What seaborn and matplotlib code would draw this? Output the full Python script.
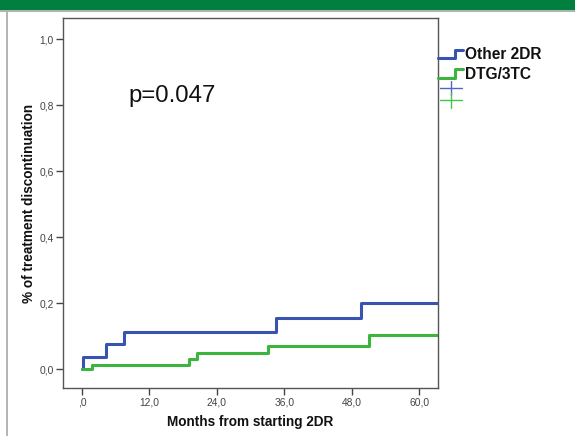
import numpy as np
import pandas as pd
import matplotlib
matplotlib.use("Agg")
import matplotlib.pyplot as plt
from matplotlib.lines import Line2D
from matplotlib.patches import Rectangle
from matplotlib.legend_handler import HandlerBase
import seaborn as sns

# step curves (months, cumulative discontinuation)
other_months = [0.0, 0.1, 4.2, 7.4, 34.5, 49.7, 63.3]
other_disc = [0.0, 0.036, 0.076, 0.113, 0.156, 0.202, 0.202]
dtg_months = [0.0, 1.7, 19.1, 20.4, 33.1, 51.0, 63.3]
dtg_disc = [0.0, 0.012, 0.030, 0.048, 0.070, 0.105, 0.105]

x_ticks = [0, 12, 24, 36, 48, 60]
x_labels = [",0", "12,0", "24,0", "36,0", "48,0", "60,0"]
y_ticks = [0.0, 0.2, 0.4, 0.6, 0.8, 1.0]
y_labels = ["0,0", "0,2", "0,4", "0,6", "0,8", "1,0"]

BLUE = "#3a52b2"
GREEN = "#3bb53d"

sns.set_style("white")
plt.rcParams["font.family"] = ["Liberation Sans", "DejaVu Sans"]
plt.rcParams["text.color"] = "#111111"
plt.rcParams["axes.labelcolor"] = "#111111"

df = pd.concat([
    pd.DataFrame({"month": other_months, "disc": other_disc, "group": "Other 2DR"}),
    pd.DataFrame({"month": dtg_months, "disc": dtg_disc, "group": "DTG/3TC"}),
])

W, H = 575, 436
fig = plt.figure(figsize=(W / 100, H / 100), dpi=100)
ax = fig.add_axes([63.3 / W, 1 - 388 / H, (437.7 - 63.3) / W, (388 - 18) / H])

sns.lineplot(data=df, x="month", y="disc", hue="group",
             palette={"Other 2DR": BLUE, "DTG/3TC": GREEN},
             drawstyle="steps-post", linewidth=2.2, legend=False,
             estimator=None, sort=False, ax=ax)

ax.set_xlim(-3.33, 63.3)
ax.set_ylim(-0.057, 1.065)
ax.set_xticks(x_ticks, x_labels)
ax.set_yticks(y_ticks, y_labels)
ax.tick_params(axis="both", which="major", direction="out", length=5, width=1,
               color="#444444", labelsize=7.4, labelcolor="#444444", pad=2,
               bottom=True, left=True)
for side in ["left", "bottom", "top", "right"]:
    ax.spines[side].set_visible(True)
    ax.spines[side].set_color("#555555")
    ax.spines[side].set_linewidth(1)
ax.set_xlabel("Months from starting 2DR", fontsize=9.8, fontweight="bold", labelpad=5)
ax.set_ylabel("% of treatment discontinuation", fontsize=9.8, fontweight="bold", labelpad=2)

ax.text(8.35, 0.811, "p=0.047", fontsize=17.3, va="baseline", ha="left")


class StepHandler(HandlerBase):
    def create_artists(self, legend, orig, xdescent, ydescent, width, height, fontsize, trans):
        xs = np.array([0, 0.68, 0.68, 1.0]) * width - xdescent
        ys = np.array([0.0, 0.0, 0.9, 0.9]) * height - ydescent
        return [Line2D(xs, ys, color=orig.get_color(), lw=2.2, transform=trans)]


class CrossHandler(HandlerBase):
    def create_artists(self, legend, orig, xdescent, ydescent, width, height, fontsize, trans):
        cx = 0.5 * width - xdescent
        cy = 0.5 * height - ydescent
        h = Line2D([-xdescent, width - xdescent], [cy, cy], color=orig.get_color(), lw=1.0, transform=trans)
        v = Line2D([cx, cx], [cy - 0.75 * height, cy + 0.75 * height], color=orig.get_color(), lw=1.0, transform=trans)
        return [h, v]


h_other = Line2D([], [], color=BLUE)
h_dtg = Line2D([], [], color=GREEN)
leg = fig.legend([h_other, h_dtg], ["Other 2DR", "DTG/3TC"],
                 handler_map={h_other: StepHandler(), h_dtg: StepHandler()},
                 loc="upper left", bbox_to_anchor=(438 / W, 1 - 47 / H),
                 frameon=False, borderpad=0, borderaxespad=0, handlelength=1.6,
                 handleheight=0.6, handletextpad=0.12, labelspacing=0.3,
                 prop={"size": 11.2, "weight": "bold"})

c_other = Line2D([], [], color="#4f66c8")
c_dtg = Line2D([], [], color="#45c44a")
leg2 = fig.legend([c_other, c_dtg], ["", ""],
                  handler_map={c_other: CrossHandler(), c_dtg: CrossHandler()},
                  loc="upper left", bbox_to_anchor=(440 / W, 1 - 83 / H),
                  frameon=False, borderpad=0, borderaxespad=0, handlelength=2.0,
                  handleheight=1.0, handletextpad=0.0, labelspacing=0.12,
                  prop={"size": 8})

# green banner at the top and grey page edge on the left
fig.patches.append(Rectangle((0, 1 - 10 / H), 1, 10 / H, transform=fig.transFigure,
                             facecolor="#007f3e", edgecolor="none", zorder=0))
fig.patches.append(Rectangle((0, 1 - 12 / H), 1, 2 / H, transform=fig.transFigure,
                             facecolor="#a9b8ad", edgecolor="none", zorder=0))
fig.patches.append(Rectangle((6 / W, 0), 2 / W, 1 - 12 / H, transform=fig.transFigure,
                             facecolor="#b5b5b5", edgecolor="none", zorder=0))

fig.savefig("out.png", dpi=100)
